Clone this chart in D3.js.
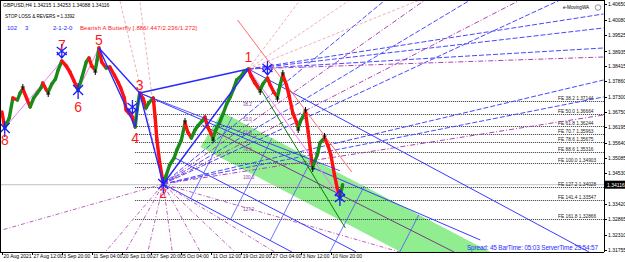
<!DOCTYPE html>
<html>
<head>
<meta charset="utf-8">
<script src="https://cdn.jsdelivr.net/npm/d3@7"></script>
<style>
body { margin: 0; background: #fff; }
svg { display: block; font-family: "Liberation Sans", Arial, sans-serif; }
.axis path, .axis line { stroke: #000; shape-rendering: crispEdges; }
.axis text { font-size: 5px; fill: #000; }
</style>
</head>
<body>
<div id="chart"></div>
<script>
const W = 625, H = 262;

// GBPUSD H4 path (bar index, price)
const bars = [0,3,8,12,17,20,23,28,31,35,39,43,45,49,51,55,59,62,66,71,75,79,84,88,93,96,99,103,105,107,
  110,115,119,124,128,131,135,137,140,144,147,149,152,156,159,162,167,169,171,174,178,181,185,190,193,198,
  202,205,209,213,216,221,224,227,231,233,236,240,244,248,252,256,259,264,267,272,275,279,283,285,288,293,
  296,300,304,307,310,314,317,321,325,327,330,335,338,341,343,348,351,356,360,363,367,370,373,376];
const prices = [1.36745,1.36167,1.36528,1.37251,1.37179,1.37432,1.37577,1.37179,1.36926,1.37251,1.37432,
  1.37613,1.37794,1.37541,1.37468,1.37758,1.37938,1.38264,1.38589,1.38408,1.38192,1.37902,1.37541,1.37975,
  1.38553,1.38698,1.38408,1.38264,1.38625,1.39059,1.38553,1.38336,1.38372,1.38083,1.37830,1.37613,1.37251,
  1.36817,1.36709,1.36564,1.36203,1.36817,1.37432,1.37215,1.36890,1.37071,1.37251,1.36564,1.35733,1.34937,
  1.34142,1.34431,1.34829,1.35082,1.35371,1.35733,1.36347,1.36022,1.35805,1.36094,1.36239,1.36420,1.36564,
  1.36203,1.35950,1.35805,1.36094,1.36347,1.36673,1.37034,1.37288,1.37613,1.37902,1.38047,1.38192,1.38300,
  1.38047,1.37794,1.37613,1.37541,1.37758,1.37975,1.37721,1.37468,1.37288,1.37721,1.38083,1.37721,1.37324,
  1.36709,1.36384,1.36167,1.36456,1.36745,1.36022,1.35190,1.34756,1.35190,1.35624,1.35805,1.35516,1.35190,
  1.34467,1.33997,1.33671,1.34116];

const lastPrice = 1.34116;
const priceTicks = [1.40650,1.40080,1.39525,1.38935,1.38415,1.37860,1.37300,1.36750,1.36195,1.35640,
  1.35085,1.34530,1.33420,1.32865,1.32310,1.31755];
const timeBars = [0,33,66,99,132,165,198,231,264,297,330,363];
const timeLabels = ["20 Aug 2021","27 Aug 12:00","3 Sep 20:00","11 Sep 04:00","20 Sep 11:00","27 Sep 20:00",
  "5 Oct 04:00","11 Oct 12:00","19 Oct 20:00","27 Oct 04:00","3 Nov 12:00","10 Nov 20:00"];

// zigzag pivots
const pivotNames = ["8","7","6","5","4","3","2","1"];
const pivotBars = [3,66,84,107,147,152,178,272];
const pivotPrices = [1.36167,1.38589,1.37541,1.39059,1.36203,1.37432,1.34142,1.38300];
const pointD = [373, 1.33671];

// fibo expansion levels
const feLevels = ["38.2","50.0","61.8","70.7","78.6","88.6","100.0","127.2","141.4","161.8"];
const fePrices = [1.37144,1.36664,1.36244,1.35963,1.35675,1.35316,1.34903,1.34028,1.33547,1.32866];
// retracement labels 1 -> 2
const fiboLevels = ["38.2","50.0","61.8","78.6","100.0","127.2"];
const fiboPrices = [1.36926,1.36384,1.35914,1.35299,1.34286,1.33129];

// fan / channel lines as [bar1, price1, bar2, price2]
const fanBlue = [[272,1.38300,664,1.40289],[272,1.38300,664,1.39783],[272,1.38300,664,1.39059],
  [178,1.34142,664,1.37902],[178,1.34142,664,1.37288],[178,1.34142,423,1.40795],
  [178,1.34142,517,1.40795],[178,1.34142,616,1.40795]];
const fanPink = [[272,1.38300,664,1.38734],[178,1.34142,664,1.36637],[178,1.34142,467,1.40795],
  [178,1.34142,572,1.40795]];
const fanSalmon = [[272,1.38300,329,1.40795],[272,1.38300,384,1.40795],[272,1.38300,461,1.40795],
  [178,1.34142,130,1.40795],[178,1.34142,152,1.40795]];
const fanDown = [[178,1.34142,114,1.31683],[178,1.34142,136,1.31683],[178,1.34142,161,1.31683],
  [178,1.34142,188,1.31683],[178,1.34142,219,1.31683],[178,1.34142,257,1.31683],
  [178,1.34142,301,1.31683],[178,1.34142,439,1.31683],[178,1.34142,0,1.32478]];
const forkLines = [[272,1.38300,648,1.31683],[152,1.37432,528,1.32117],[178,1.34142,320,1.31683],
  [189,1.35118,391,1.31683]];
const forkCross = [[208,1.33599,254,1.36564],[252,1.32840,298,1.35805],[296,1.32095,342,1.35046],
  [362,1.31683,400,1.34069],[439,1.31683,460,1.33021]];
const medianLine = [221,1.36275,499,1.31683];
const greenLine = [272,1.38300,379,1.32551];
const redLine = [260,1.40072,386,1.34576];
const bandBars = [243,539,440,219];
const bandPrices = [1.36745,1.31683,1.31683,1.35480];

// markers
const fractalHighs = [23,202,310,335,356];
const fractalLows = [51,103,233,285,304,327,343];
const arrowDownBars = [66,144,293];
const starBars = [3,84,178];

const x = d3.scaleLinear().domain([0, 664.5]).range([2, 604]);
const y = d3.scaleLinear().domain([1.31755, 1.40650]).range([250, 4]);
const priceAt = b => prices[bars.indexOf(b)];

const svg = d3.select("#chart").append("svg").attr("width", W).attr("height", H);
svg.append("rect").attr("width", W).attr("height", H).attr("fill", "#fff");
svg.append("clipPath").attr("id", "plot").append("rect").attr("width", 604).attr("height", 252);
const g = svg.append("g").attr("clip-path", "url(#plot)");

// green channel
g.append("polygon")
  .attr("points", bandBars.map((b, i) => [x(b), y(bandPrices[i])].join(",")).join(" "))
  .attr("fill", "#90ee90");

// current price line
g.append("line").attr("x1", 0).attr("x2", 604).attr("y1", y(lastPrice)).attr("y2", y(lastPrice))
  .attr("stroke", "#c0c0c0");

// FE dotted levels
g.selectAll(".fe").data(fePrices).enter().append("line")
  .attr("x1", x(pivotBars[4])).attr("x2", 604)
  .attr("y1", d => Math.round(y(d)) + 0.5).attr("y2", d => Math.round(y(d)) + 0.5)
  .attr("stroke", "#333").attr("stroke-dasharray", "1,1");
g.selectAll(".fet").data(fePrices).enter().append("text")
  .attr("x", 558).attr("y", d => y(d) - 1)
  .attr("font-size", 4.8).attr("fill", "#222")
  .text((d, i) => "FE " + feLevels[i] + " " + d.toFixed(5));

var drawSegs = function(data, color, dash, width) {
  g.append("g").selectAll("line").data(data).enter().append("line")
    .attr("x1", d => x(d[0])).attr("y1", d => y(d[1]))
    .attr("x2", d => x(d[2])).attr("y2", d => y(d[3]))
    .attr("stroke", color).attr("stroke-width", width || 1)
    .attr("stroke-dasharray", dash);
};

drawSegs(fanSalmon, "#f2b0b0", "3,2");
drawSegs(fanDown, "#c060c0", "4,2,1,2");
drawSegs(fanBlue, "#4848ff", "5,2");
drawSegs(fanPink, "#b040b0", "5,2,1,2");
drawSegs(forkLines, "#3a3aff", null);
drawSegs(forkCross, "#5050ff", null, 0.8);
drawSegs([medianLine], "#7a3a8a", null);
drawSegs([greenLine], "#008000", null);
drawSegs([redLine], "#ff6a6a", null);
drawSegs([[pivotBars[7], pivotPrices[7], pointD[0], pointD[1]]], "#ff70ff", null);

// retracement labels
g.selectAll(".fl").data(fiboPrices).enter().append("text")
  .attr("x", x(266)).attr("y", d => y(d) - 1)
  .attr("font-size", 4.5).attr("fill", "#9040a0")
  .text((d, i) => fiboLevels[i]);

// pink zigzag 8-7-6-5
const pv = i => [x(pivotBars[i]), y(pivotPrices[i])];
g.append("path")
  .attr("d", d3.line()([pv(0), pv(1), pv(2), pv(3)]))
  .attr("fill", "none").attr("stroke", "#ee82ee").attr("stroke-width", 1);

// candles as coloured legs
const pts = bars.map((b, i) => [b, prices[i]]);
g.append("g").selectAll("line").data(pts.slice(1)).enter().append("line")
  .attr("x1", (d, i) => x(pts[i][0])).attr("y1", (d, i) => y(pts[i][1]))
  .attr("x2", d => x(d[0])).attr("y2", d => y(d[1]))
  .attr("stroke", (d, i) => d[1] >= pts[i][1] ? "#1a8a1a" : "#ff1010")
  .attr("stroke-width", 3.4).attr("stroke-linecap", "round");

// butterfly legs
const legs = [[3,4],[4,5],[5,6],[6,7],[3,5],[5,7],[5,-1]];
g.append("g").selectAll("line").data(legs).enter().append("line")
  .attr("x1", d => pv(d[0])[0]).attr("y1", d => pv(d[0])[1])
  .attr("x2", d => d[1] < 0 ? x(pointD[0]) : pv(d[1])[0])
  .attr("y2", d => d[1] < 0 ? y(pointD[1] + 0.0095) : pv(d[1])[1])
  .attr("stroke", "#2828ff").attr("stroke-width", d => d[1] < 0 ? 0.8 : 1.4);

// fractal markers
var cross = function(b, up) {
  const cx = x(b), cy = y(priceAt(b)) + (up ? -2 : 2);
  g.append("path")
    .attr("d", `M${cx - 2},${cy}H${cx + 2}M${cx},${cy - 3}V${cy + 3}`)
    .attr("stroke", "#000").attr("stroke-width", 1);
};
fractalHighs.forEach(b => cross(b, true));
fractalLows.forEach(b => cross(b, false));

// blue arrows
const blue = "#1c1cff";
arrowDownBars.forEach(b => {
  const cx = x(b), t = y(priceAt(b)) - 3;
  g.append("path")
    .attr("d", `M${cx},${t - 14}V${t}M${cx - 5},${t - 6}L${cx},${t}L${cx + 5},${t - 6}` +
      `M${cx - 5},${t - 11}L${cx + 5},${t - 3}M${cx + 5},${t - 11}L${cx - 5},${t - 3}`)
    .attr("fill", "none").attr("stroke", blue).attr("stroke-width", 1.3);
});
starBars.forEach(b => {
  const cx = x(b), cy = y(priceAt(b));
  g.append("path")
    .attr("d", `M${cx - 5},${cy - 5}L${cx + 5},${cy + 5}M${cx + 5},${cy - 5}L${cx - 5},${cy + 5}` +
      `M${cx},${cy - 7}V${cy + 9}`)
    .attr("fill", "none").attr("stroke", blue).attr("stroke-width", 1.3);
});
{
  const cx = x(pointD[0]), t = y(pointD[1]) - 7;
  g.append("path")
    .attr("d", `M${cx},${t}V${t + 16}M${cx - 5},${t + 6}L${cx},${t}L${cx + 5},${t + 6}` +
      `M${cx - 5},${t + 4}L${cx + 5},${t + 12}M${cx + 5},${t + 4}L${cx - 5},${t + 12}`)
    .attr("fill", "none").attr("stroke", blue).attr("stroke-width", 1.3);
}

// pivot numbers
const labelDy = {"8": 17, "7": -11, "6": 22, "5": -3, "4": 16, "3": -3, "2": 14, "1": -7};
g.selectAll(".pn").data(pivotNames).enter().append("text")
  .attr("x", (d, i) => Math.max(x(pivotBars[i]), 5))
  .attr("y", (d, i) => y(pivotPrices[i]) + labelDy[d])
  .attr("text-anchor", "middle").attr("font-size", 14).attr("fill", "#ff1a1a")
  .text(d => d);

// axes
svg.append("g").attr("class", "axis").attr("transform", "translate(604,0)")
  .call(d3.axisRight(y).tickValues(priceTicks).tickSize(3).tickSizeOuter(0).tickFormat(d3.format(".5f")))
  .call(a => a.select(".domain").attr("d", "M0.5,0V252"))
  .selectAll("text").attr("x", 4);
svg.append("g").attr("class", "axis").attr("transform", "translate(0,252)")
  .call(d3.axisBottom(x).tickValues(timeBars).tickSize(3).tickSizeOuter(0).tickFormat((d, i) => timeLabels[i]))
  .call(a => a.select(".domain").attr("d", "M0,0.5H604"))
  .selectAll("text").attr("text-anchor", "start").attr("x", 1).attr("dy", "0.5em").attr("y", 3)
  .attr("font-size", 4.5);
svg.append("line").attr("x1", 0.5).attr("x2", 0.5).attr("y1", 0).attr("y2", 252).attr("stroke", "#000");
svg.append("line").attr("x1", 0).attr("x2", 604).attr("y1", 0.5).attr("y2", 0.5).attr("stroke", "#000");

// current price tag
svg.append("rect").attr("x", 604).attr("y", y(lastPrice) - 4).attr("width", 21).attr("height", 8).attr("fill", "#000");
svg.append("text").attr("x", 607).attr("y", y(lastPrice) + 2).attr("font-size", 5).attr("fill", "#fff")
  .text(lastPrice.toFixed(5));

// texts
const info = svg.append("g").attr("font-size", 5);
info.append("text").attr("x", 3).attr("y", 7).text("GBPUSD,H4  1.34215 1.34253 1.34088 1.34116");
info.append("text").attr("x", 5).attr("y", 18).attr("font-size", 4.6).text("STOP LOSS & REVERS = 1.3392");
info.append("text").attr("x", 7).attr("y", 30).attr("font-size", 6).attr("fill", "#2020ff").text("102");
info.append("text").attr("x", 25).attr("y", 30).attr("font-size", 6).attr("fill", "#2020ff").text("3");
info.append("text").attr("x", 53).attr("y", 30).attr("font-size", 6).attr("fill", "#2020ff").text("2-1-2-0");
info.append("text").attr("x", 80).attr("y", 30).attr("font-size", 6).attr("fill", "#ff2020")
  .attr("textLength", 117).text("Bearish A Butterfly [.886/.447/2.236/1.272]");
info.append("text").attr("x", 563).attr("y", 9).attr("font-size", 4.6).text("e-MovingWA");
info.append("circle").attr("cx", 598).attr("cy", 7.5).attr("r", 2.8).attr("fill", "none").attr("stroke", "#555").attr("stroke-width", 0.6);
info.append("text").attr("x", 467).attr("y", 250).attr("font-size", 6.4).attr("fill", "#2a2aff")
  .attr("textLength", 131).text("Spread: 45  BarTime: 05:03  ServerTime 23:54:57");
</script>
</body>
</html>
